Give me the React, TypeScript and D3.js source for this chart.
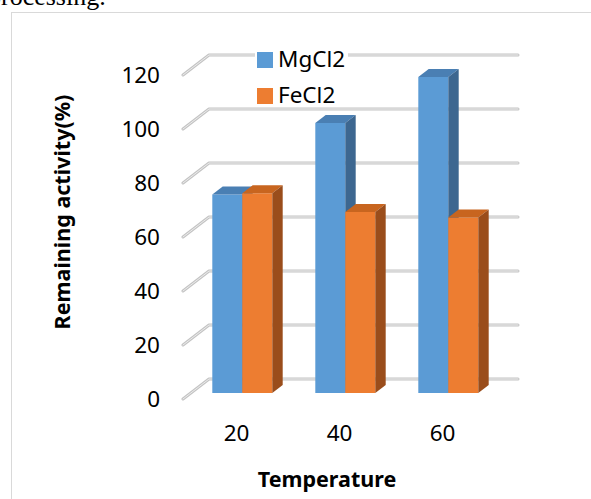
import * as d3 from 'd3';

// data
const categories = ['20', '40', '60'];
const seriesNames = ['MgCl2', 'FeCl2'];
const mgcl2 = [73.5, 100, 117];
const fecl2 = [74, 67, 65];
const yTicks = [0, 20, 40, 60, 80, 100, 120];

const W = 591;
const H = 499;

// 3D floor depth offsets
const DX = 26;
const DY = -20;
const T0 = 0.3;
const T1 = 0.7;

const FRONT = ['#5B9BD5', '#ED7D31'];
const TOP = ['#4A7FB3', '#C8651F'];
const SIDE = ['#3D6790', '#9A4D1B'];

const FONT = "'Noto Sans', 'Open Sans', sans-serif";

export default function App() {
  const x = d3.scaleBand<string>().domain(categories).range([183, 492]).paddingInner(0.4175).paddingOuter(0.20875);
  const xs = d3.scaleBand<string>().domain(seriesNames).range([0, x.bandwidth()]);
  const y = d3.scaleLinear().domain([0, 120]).range([399, 75]);

  const p = (px: number, v: number, t: number) => [px + t * DX, y(v) + t * DY];
  const poly = (pts: number[][]) => pts.map(d => d.join(',')).join(' ');

  const values = [mgcl2, fecl2];

  return (
    <svg width={W} height={H} style={{ position: 'absolute', left: 0, top: 0 }}>
      <rect x={0} y={0} width={W} height={H} fill="#fff" />
      <text x={-12} y={5} fontFamily="'Liberation Serif', serif" fontSize={26} fill="#000">processing.</text>
      <rect x={11.5} y={12.5} width={600} height={520} fill="none" stroke="#d9d9d9" strokeWidth={1} />

      {/* gridlines */}
      {yTicks.map(v => {
        const d = `M${183},${y(v)} L${183 + DX},${y(v) + DY} L${518},${y(v) + DY}`;
        return (
          <g key={v}>
            <path d={d} fill="none" stroke="#c4c4c4" strokeWidth={3} strokeLinecap="round" strokeLinejoin="round" />
            <path d={d} fill="none" stroke="#ececec" strokeWidth={1} strokeLinecap="round" strokeLinejoin="round" />
          </g>
        );
      })}

      {/* tick labels */}
      {yTicks.map(v => (
        <text key={v} x={160} y={y(v)} dy="0.35em" textAnchor="end" fontFamily={FONT} fontSize={22.5} fill="#000">{v}</text>
      ))}

      {/* bars */}
      {categories.map((c, i) => (
        <g key={c}>
          {seriesNames.map((s, k) => {
            const v = values[k][i];
            const xl = (x(c) as number) + (xs(s) as number);
            const xr = xl + xs.bandwidth();
            return (
              <g key={s}>
                <polygon points={poly([p(xl, 0, T0), p(xr, 0, T0), p(xr, v, T0), p(xl, v, T0)])} fill={FRONT[k]} />
                <polygon points={poly([p(xl, v, T0), p(xr, v, T0), p(xr, v, T1), p(xl, v, T1)])} fill={TOP[k]} />
                <polygon points={poly([p(xr, 0, T0), p(xr, 0, T1), p(xr, v, T1), p(xr, v, T0)])} fill={SIDE[k]} />
              </g>
            );
          })}
        </g>
      ))}

      {/* category labels */}
      {categories.map(c => (
        <text key={c} x={(x(c) as number) + x.bandwidth() / 2 + 2} y={441} textAnchor="middle" fontFamily={FONT} fontSize={22.5} fill="#000">{c}</text>
      ))}

      {/* legend */}
      <rect x={255} y={47} width={93} height={60} fill="#fff" />
      {seriesNames.map((s, k) => (
        <g key={s} transform={`translate(257, ${52 + k * 36})`}>
          <rect x={0} y={0} width={16} height={16} fill={FRONT[k]} />
          <text x={21} y={15} fontFamily={FONT} fontSize={22.5} fill="#000">{s}</text>
        </g>
      ))}

      {/* axis titles */}
      <text x={327} y={487} textAnchor="middle" fontFamily={FONT} fontWeight="bold" fontSize={21.5} fill="#000">Temperature</text>
      <text transform="translate(70, 212) rotate(-90)" textAnchor="middle" fontFamily={FONT} fontWeight="bold" fontSize={21.5} fill="#000">Remaining activity(%)</text>
    </svg>
  );
}
